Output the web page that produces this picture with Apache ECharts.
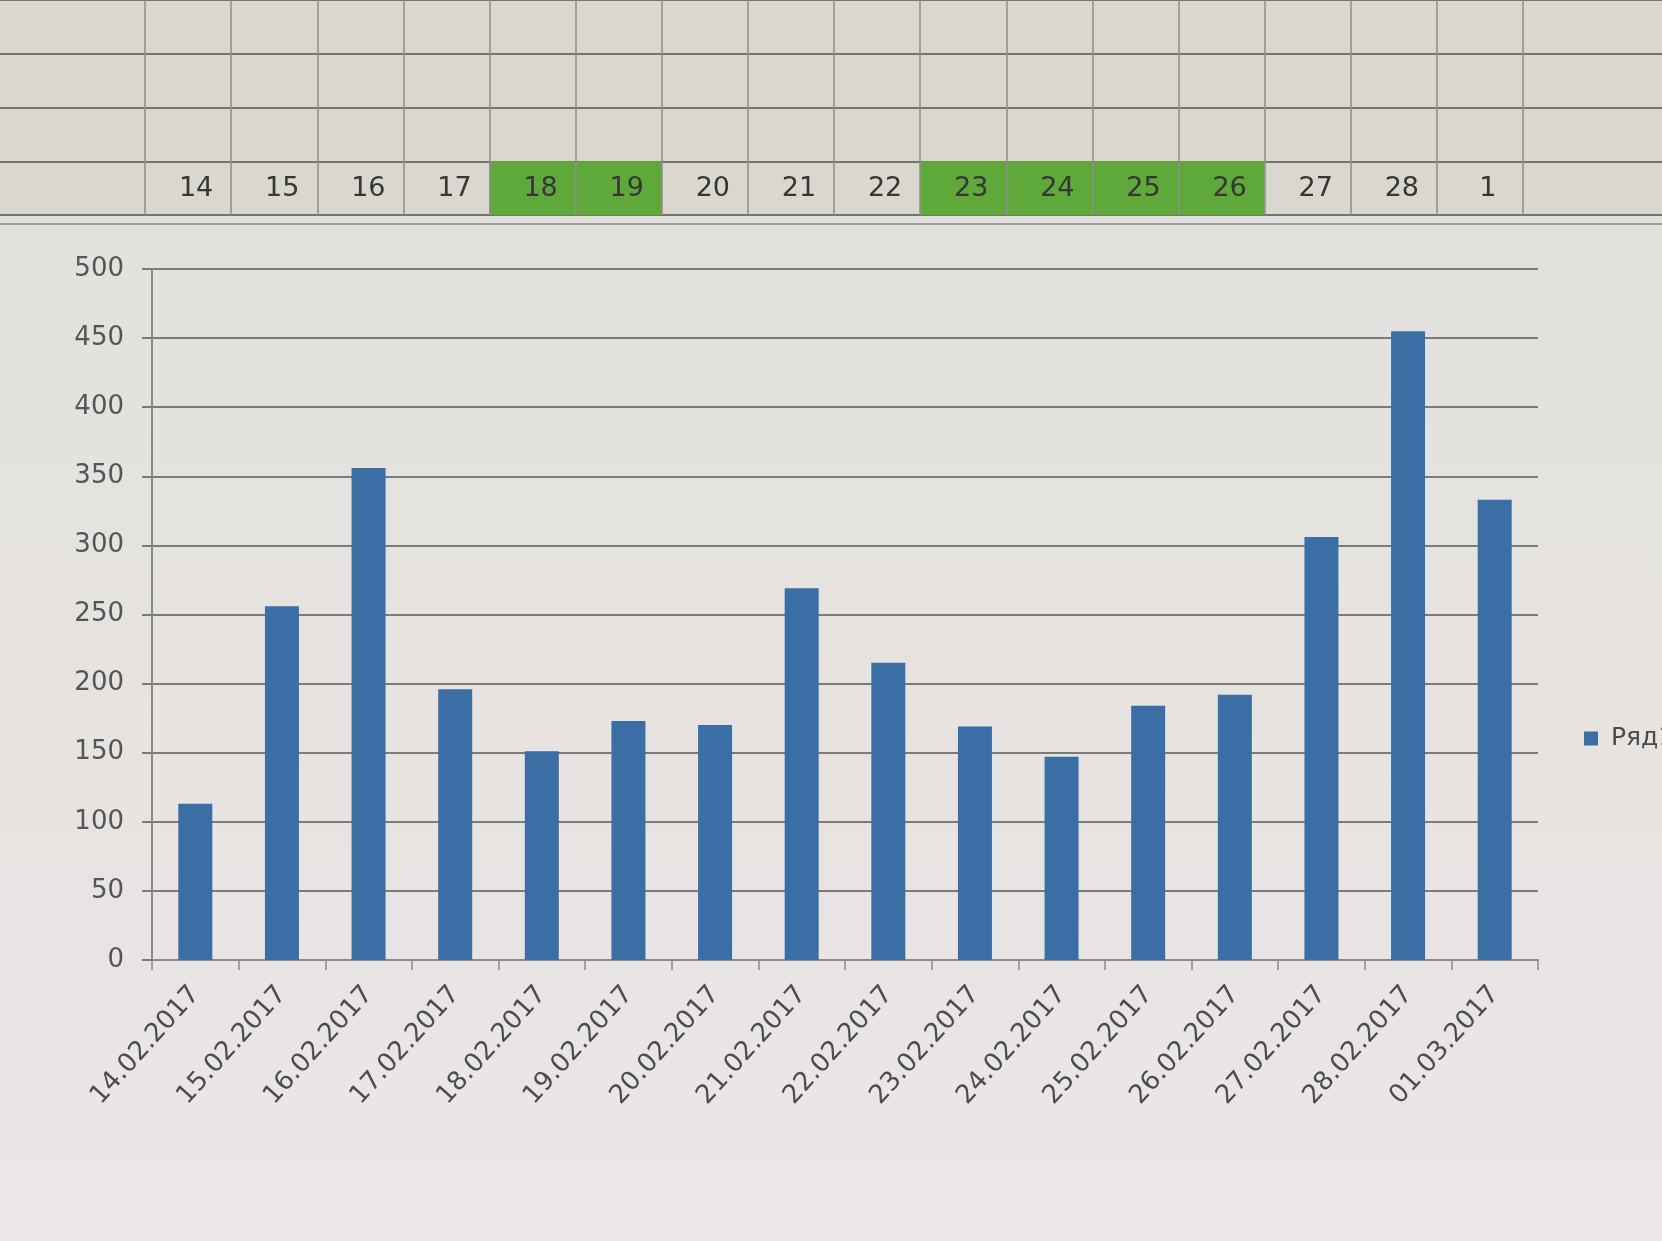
<!DOCTYPE html>
<html>
<head>
<meta charset="utf-8">
<script src="https://cdn.jsdelivr.net/npm/echarts@6/dist/echarts.min.js"></script>
<style>
html,body{margin:0;padding:0;width:1662px;height:1241px;overflow:hidden;}
#c{width:1662px;height:1241px;}
</style>
</head>
<body>
<div id="c"></div>
<script>
// ---- data ----
const categories = ['14.02.2017','15.02.2017','16.02.2017','17.02.2017','18.02.2017','19.02.2017','20.02.2017','21.02.2017','22.02.2017','23.02.2017','24.02.2017','25.02.2017','26.02.2017','27.02.2017','28.02.2017','01.03.2017'];
const values = [113, 256, 356, 196, 151, 173, 170, 269, 215, 169, 147, 184, 192, 306, 455, 333];
const seriesName = 'Ряд1';
const yMin = 0, yMax = 500, yStep = 50;
const dayLabels = ['14','15','16','17','18','19','20','21','22','23','24','25','26','27','28','1'];
const dayOff = [0,0,0,0,1,1,0,0,0,1,1,1,1,0,0,0];
const sheetRows = 4;

const FONT = 'DejaVu Sans';
const chart = echarts.init(document.getElementById('c'), null, {renderer:'canvas'});

chart.setOption({
  animation: false,
  backgroundColor: {type:'linear', x:0, y:0, x2:0, y2:1,
    colorStops:[{offset:0, color:'#e2e1dc'},{offset:0.6, color:'#e6e3e0'},{offset:1, color:'#ece6e9'}]},
  textStyle: {fontFamily: FONT},
  legend: {
    data: [seriesName],
    left: 1579, top: 721,
    orient: 'vertical',
    itemWidth: 14, itemHeight: 14,
    icon: 'rect',
    textStyle: {fontSize: 25, color: '#4a4a4a', fontFamily: FONT, padding:[0,0,0,8]}
  },
  graphic: [
    {type:'line', z:-1, shape:{x1:0, y1:224, x2:1662, y2:224}, style:{stroke:'#9c9b97', lineWidth:2}}
  ],
  grid: [
    {left:152, right:124, top:269, bottom:281},
    {left:0, right:0, top:-5, height:220, show:true, backgroundColor:'#dad7cf', borderWidth:0},
    {left:145, width:1378, top:-5, height:220}
  ],
  xAxis: [
    {
      gridIndex:0, type:'category', data:categories, boundaryGap:true,
      axisLine:{lineStyle:{color:'#8a8a8a', width:2}},
      axisTick:{show:true, length:10, lineStyle:{color:'#8a8a8a', width:1.5}},
      axisLabel:{rotate:48, margin:30, fontSize:26, color:'#4c4c4c', fontFamily:FONT, interval:0},
      splitLine:{show:false}
    },
    {gridIndex:1, type:'value', min:0, max:1, show:false},
    {
      gridIndex:2, type:'category', data:dayLabels, boundaryGap:true, z:5,
      axisLine:{show:false}, axisTick:{show:false},
      axisLabel:{inside:true, margin:26, verticalAlign:'middle', fontSize:27, color:'#363636', fontFamily:FONT, interval:0, padding:[0,0,0,16]},
      splitLine:{show:true, interval:0, lineStyle:{color:'#8d8c88', width:1.5}}
    }
  ],
  yAxis: [
    {
      gridIndex:0, type:'value', min:yMin, max:yMax, interval:yStep,
      axisLine:{show:true, lineStyle:{color:'#8a8a8a', width:2}},
      axisTick:{show:true, length:10, lineStyle:{color:'#7a7a7a', width:2}},
      axisLabel:{margin:28, fontSize:26, color:'#555', fontFamily:FONT},
      splitLine:{show:true, lineStyle:{color:'#7c7b78', width:2}}
    },
    {
      gridIndex:1, type:'value', min:0, max:sheetRows, interval:1,
      axisLine:{show:false}, axisTick:{show:false}, axisLabel:{show:false},
      splitLine:{show:true, lineStyle:{color:'#75746f', width:2}}
    },
    {
      gridIndex:2, type:'value', min:0, max:sheetRows, interval:1, show:false
    }
  ],
  series: [
    {
      name: seriesName, type:'bar', xAxisIndex:0, yAxisIndex:0,
      data: values, barWidth:34,
      itemStyle:{color:'#3a6ea5'}
    },
    {
      name: 'weekend', type:'bar', xAxisIndex:2, yAxisIndex:2,
      data: dayOff, barWidth:'100%', z:1,
      itemStyle:{color:'#5fa83a'}
    }
  ]
});
</script>
</body>
</html>
